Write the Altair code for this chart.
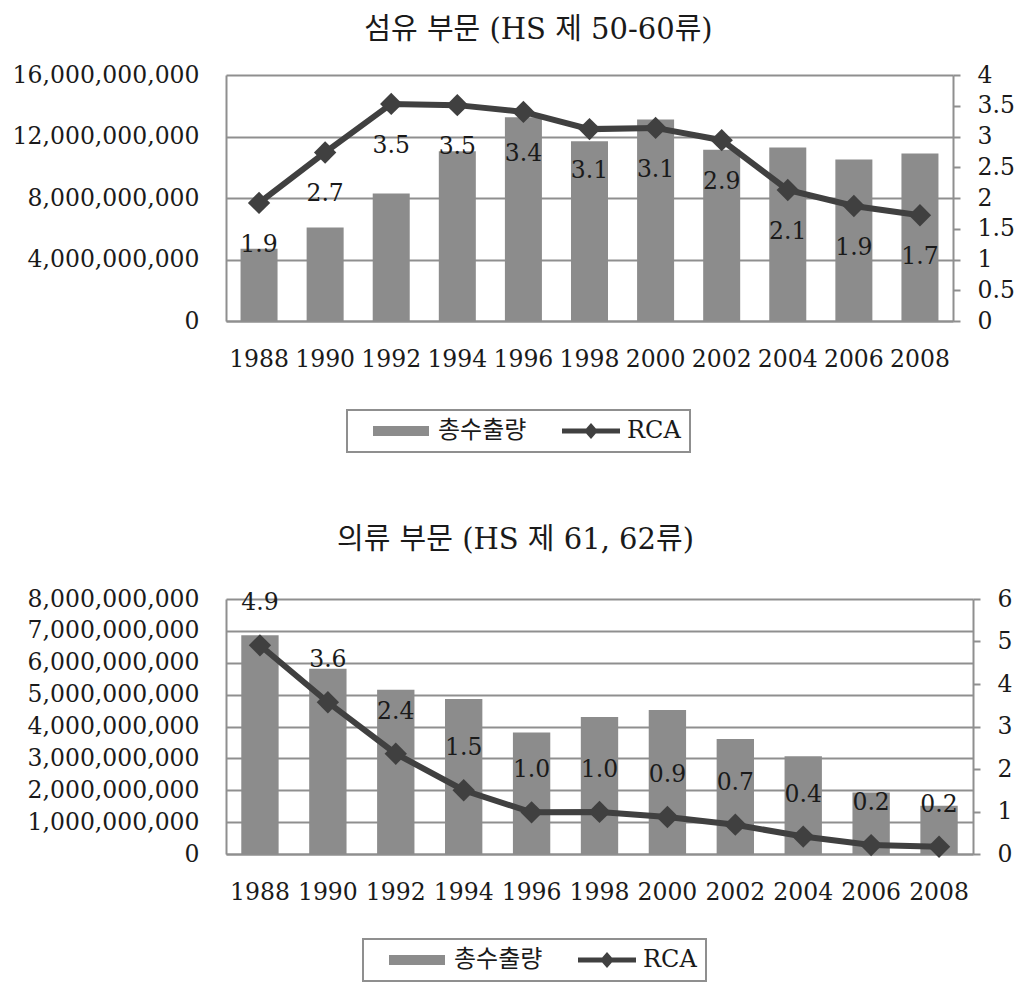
import altair as alt
import pandas as pd

YEARS = ["1988", "1990", "1992", "1994", "1996", "1998", "2000", "2002", "2004", "2006", "2008"]
SERIES = ["총수출량", "RCA"]

TEXTILE_TITLE = "섬유 부문 (HS 제 50-60류)"
TEXTILE_EXPORT = [4.70e9, 6.08e9, 8.30e9, 11.04e9, 13.26e9, 11.69e9, 13.10e9, 11.14e9, 11.28e9, 10.51e9, 10.90e9]
TEXTILE_RCA = [1.92, 2.74, 3.53, 3.51, 3.40, 3.12, 3.14, 2.94, 2.13, 1.87, 1.72]

CLOTHING_TITLE = "의류 부문 (HS 제  61, 62류)"
CLOTHING_EXPORT = [6.86e9, 5.81e9, 5.15e9, 4.86e9, 3.81e9, 4.30e9, 4.52e9, 3.61e9, 3.07e9, 1.93e9, 1.51e9]
CLOTHING_RCA = [4.91, 3.57, 2.36, 1.50, 0.98, 0.99, 0.87, 0.69, 0.41, 0.21, 0.17]

TEXTILE_LEFT_TICKS = [0, 4e9, 8e9, 12e9, 16e9]
TEXTILE_RIGHT_TICKS = [0, 0.5, 1, 1.5, 2, 2.5, 3, 3.5, 4]
CLOTHING_LEFT_TICKS = [0, 1e9, 2e9, 3e9, 4e9, 5e9, 6e9, 7e9, 8e9]
CLOTHING_RIGHT_TICKS = [0, 1, 2, 3, 4, 5, 6]

FONT = "DejaVu Serif, Noto Sans CJK KR"
FS = 23.5
INK = "#1a1a1a"
BAR = "#8c8c8c"
GRID = "#8f8f8f"
DARK = "#404040"
# legend glyphs (unit = 10 px with symbolSize 400)
P_BAR = "M0.5,-0.5H6.1V0.5H0.5Z"
P_LINE = "M0.5,-0.25H6.3V0.25H0.5Z M3.4,-0.8L4.1,0L3.4,0.8L2.7,0Z"


def panel(title, export, rca, left_ticks, right_ticks, width, height, pad_inner,
          label_dy, title_dx, title_offset, legend_x, legend_y):
    df = pd.DataFrame({"year": YEARS, "export": export, "rca": rca})
    x = alt.X("year:O", title=None,
              scale=alt.Scale(paddingInner=pad_inner, paddingOuter=pad_inner / 2),
              axis=alt.Axis(labelAngle=0, ticks=False, labelPadding=26, domain=True,
                            domainColor=GRID, domainWidth=2, labelFontSize=FS,
                            labelFont=FONT, labelColor=INK))
    base = alt.Chart(df).encode(x=x)
    bars = base.mark_bar(color=BAR).encode(
        y=alt.Y("export:Q", title=None,
                scale=alt.Scale(domain=[left_ticks[0], left_ticks[-1]], nice=False),
                axis=alt.Axis(orient="left", values=left_ticks, format=",d", grid=True,
                              gridColor=GRID, gridWidth=2, ticks=False, labelPadding=27,
                              labelLimit=400, minExtent=211, maxExtent=211,
                              domainColor=GRID, domainWidth=2,
                              labelFontSize=FS, labelFont=FONT, labelColor=INK))
    )
    rca_y = alt.Y("rca:Q", title=None,
                  scale=alt.Scale(domain=[right_ticks[0], right_ticks[-1]], nice=False),
                  axis=alt.Axis(orient="right", values=right_ticks, format="~g", grid=False,
                                ticks=True, tickSize=7, tickColor=GRID, tickWidth=2,
                                labelPadding=17, domainColor=GRID, domainWidth=2,
                                labelFontSize=FS, labelFont=FONT, labelColor=INK))
    line = base.mark_line(color=DARK, strokeWidth=6).encode(y=rca_y)
    pts = base.mark_point(shape="diamond", filled=True, size=500, color=DARK,
                          opacity=1).encode(y=rca_y)
    txt = base.mark_text(dy=label_dy, fontSize=FS, font=FONT, color=INK).encode(
        y=rca_y, text=alt.Text("rca:Q", format=".1f"))
    leg = alt.Legend(title=None, orient="none", legendX=legend_x, legendY=legend_y,
                     direction="horizontal", symbolSize=400, labelFont=FONT,
                     labelFontSize=24, labelColor=INK, strokeColor=GRID, padding=9,
                     columnPadding=18, labelOffset=58, symbolStrokeWidth=0)
    legend_layer = alt.Chart(df).transform_calculate(series="'RCA'").transform_filter(
        "false").mark_point(filled=True, opacity=1).encode(
        color=alt.Color("series:N", scale=alt.Scale(domain=SERIES, range=[BAR, DARK]), legend=leg),
        shape=alt.Shape("series:N", scale=alt.Scale(domain=SERIES, range=[P_BAR, P_LINE]), legend=leg),
    )
    return alt.layer(bars, alt.layer(line, pts, txt), legend_layer).resolve_scale(
        y="independent").properties(
        width=width, height=height,
        title=alt.TitleParams(title, fontSize=29, font=FONT, fontWeight="normal",
                              color=INK, dx=title_dx, offset=title_offset))


top = panel(TEXTILE_TITLE, TEXTILE_EXPORT, TEXTILE_RCA, TEXTILE_LEFT_TICKS,
            TEXTILE_RIGHT_TICKS, 727, 246, 0.44, 42, -51, 18, 121, 335)
bottom = panel(CLOTHING_TITLE, CLOTHING_EXPORT, CLOTHING_RCA, CLOTHING_LEFT_TICKS,
               CLOTHING_RIGHT_TICKS, 747, 255, 0.45, -42, -84, 32, 137, 340)

chart = alt.vconcat(top, bottom, spacing=73).resolve_scale(
    color="independent", shape="independent").properties(
    padding={"left": 12, "top": 16, "right": 5, "bottom": 5},
    background="white",
).configure_view(stroke=None).configure_legend(strokeWidth=2)

chart.save("out.html", embed_options={"renderer": "svg", "actions": False})
